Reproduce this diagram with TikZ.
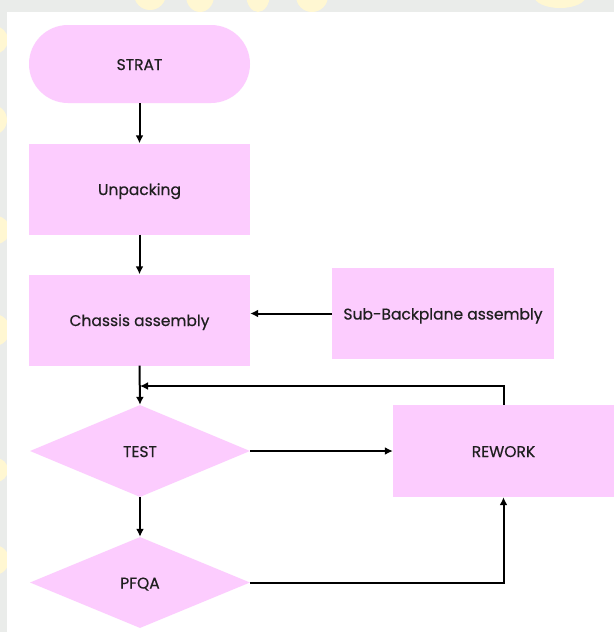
\documentclass[tikz,border=0pt]{standalone}
\usepackage{fontspec}
\setmainfont{Poppins}
\newfontfamily\flowfont{Poppins}[FakeBold=0.5]
\usetikzlibrary{shapes.geometric,arrows.meta}
\definecolor{flowpink}{RGB}{252,204,254}
\definecolor{pagegrey}{RGB}{234,236,234}
\definecolor{markyellow}{RGB}{255,247,210}

\begin{document}
\begin{tikzpicture}[x=1pt,y=-1pt,
  label text/.style={font=\flowfont\fontsize{15.5}{17}\selectfont, text=black!88,
                     text height=1.3em, text depth=0.1em},
  procbox/.style={label text, fill=flowpink, draw=none, rectangle, inner sep=0pt,
                  minimum width=221pt, minimum height=91pt},
  startbox/.style={label text, fill=flowpink, draw=none, rectangle, rounded corners=39pt,
                   inner sep=0pt, minimum width=221pt, minimum height=78pt},
  decision/.style={label text, fill=flowpink, draw=none, diamond, inner sep=0pt,
                   minimum width=220pt, minimum height=92pt},
  flow/.style={draw=black, line width=2pt, -{Latex[length=8pt,width=8pt]}}]

\useasboundingbox (0,0) rectangle (614,632);

% page background with faint watermark shapes
\fill[pagegrey] (0,0) rectangle (614,632);
\begin{scope}[markyellow]
  \fill (150,-6) circle (16);
  \fill (200,-4) ellipse (14 and 16);
  \fill (258,-6) ellipse (12 and 18);
  \fill (312,-4) ellipse (16 and 16);
  \fill (-6,40) circle (14);
  \fill (-8,120) circle (15);
  \fill (-4,230) circle (14);
  \fill (-6,330) circle (16);
  \fill (-4,470) circle (12);
  \fill (-6,560) circle (15);
  \fill (560,-4) ellipse (26 and 12);
\end{scope}
\fill[white] (7,12) rectangle (614,632);

% flowchart nodes
\node[startbox] (start) at (139.5,64) {STRAT};
\node[procbox] (unpack) at (139.5,189) {Unpacking};
\node[procbox] (chassis) at (139.5,320) {Chassis assembly};
\node[procbox, minimum width=222pt] (subbp) at (443,313.5) {Sub-Backplane assembly};
\node[decision] (test) at (140,451) {TEST};
\node[decision, minimum height=91pt] (pfqa) at (140,582.5) {PFQA};
\node[procbox, minimum height=92pt] (rework) at (503.5,451) {REWORK};
\coordinate (retest) at (140,386);

% connectors
\draw[flow] (start.south) -- (unpack.north);
\draw[flow] (unpack.south) -- (chassis.north);
\draw[flow] (subbp.west) -- (subbp.west -| chassis.east);
\draw[flow] (chassis.south) -- (test.north);
\draw[flow] (test.south) -- (pfqa.north);
\draw[flow] (test.east) -- (rework.west);
\draw[flow] (pfqa.east) -| (rework.south);
\draw[flow] (rework.north) |- (retest);
\end{tikzpicture}
\end{document}
